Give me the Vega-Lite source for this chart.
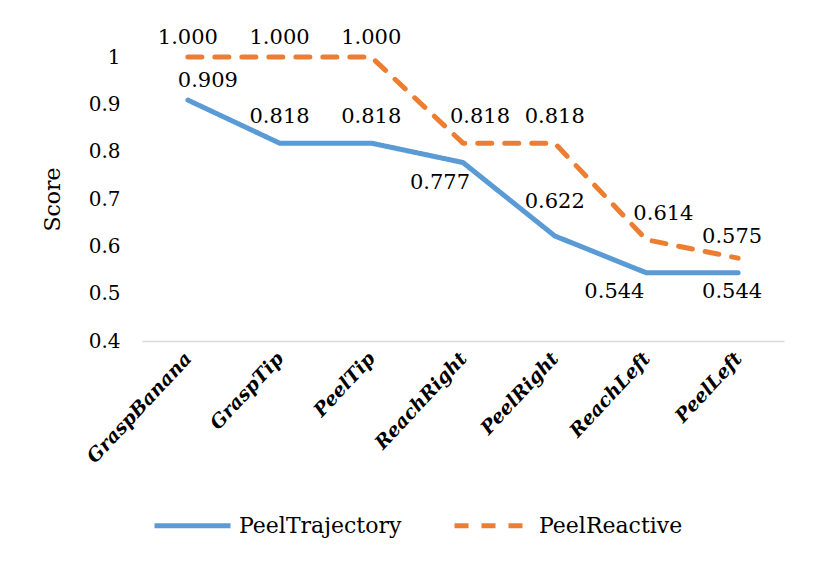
{
  "$schema": "https://vega.github.io/schema/vega-lite/v6.json",
  "width": 642,
  "height": 284,
  "autosize": "none",
  "padding": {"left": 142, "top": 57, "right": 30, "bottom": 225},
  "background": "#ffffff",
  "data": {
    "values": [
      {"step": "GraspBanana", "series": "PeelTrajectory", "score": 0.909},
      {"step": "GraspTip", "series": "PeelTrajectory", "score": 0.818},
      {"step": "PeelTip", "series": "PeelTrajectory", "score": 0.818},
      {"step": "ReachRight", "series": "PeelTrajectory", "score": 0.777},
      {"step": "PeelRight", "series": "PeelTrajectory", "score": 0.622},
      {"step": "ReachLeft", "series": "PeelTrajectory", "score": 0.544},
      {"step": "PeelLeft", "series": "PeelTrajectory", "score": 0.544},
      {"step": "GraspBanana", "series": "PeelReactive", "score": 1.0},
      {"step": "GraspTip", "series": "PeelReactive", "score": 1.0},
      {"step": "PeelTip", "series": "PeelReactive", "score": 1.0},
      {"step": "ReachRight", "series": "PeelReactive", "score": 0.818},
      {"step": "PeelRight", "series": "PeelReactive", "score": 0.818},
      {"step": "ReachLeft", "series": "PeelReactive", "score": 0.614},
      {"step": "PeelLeft", "series": "PeelReactive", "score": 0.575}
    ]
  },
  "encoding": {
    "x": {
      "field": "step",
      "type": "nominal",
      "sort": ["GraspBanana", "GraspTip", "PeelTip", "ReachRight", "PeelRight", "ReachLeft", "PeelLeft"],
      "scale": {"type": "point", "padding": 0.5},
      "axis": {
        "title": null,
        "labelAngle": -47,
        "labelFontSize": 19,
        "labelFontWeight": "bold",
        "labelFontStyle": "italic",
        "labelPadding": 14,
        "ticks": false,
        "domainColor": "#d9d9d9",
        "domainWidth": 1.5
      }
    },
    "y": {
      "field": "score",
      "type": "quantitative",
      "scale": {"domain": [0.4, 1], "nice": false, "zero": false},
      "axis": {
        "title": "Score",
        "values": [0.4, 0.5, 0.6, 0.7, 0.8, 0.9, 1],
        "format": "~g",
        "labelFontSize": 20,
        "labelPadding": 22,
        "titleFontSize": 22,
        "titleFontWeight": "normal",
        "titlePadding": 24,
        "ticks": false,
        "domain": false,
        "grid": false
      }
    }
  },
  "layer": [
    {
      "mark": {"type": "line", "strokeWidth": 5, "strokeCap": "round", "strokeJoin": "round"},
      "encoding": {
        "color": {
          "field": "series",
          "type": "nominal",
          "scale": {"domain": ["PeelTrajectory", "PeelReactive"], "range": ["#5B9BD5", "#ED7D31"]},
          "legend": {
            "title": null,
            "orient": "none",
            "direction": "horizontal",
            "legendX": 10,
            "legendY": 428,
            "symbolType": "stroke",
            "symbolSize": 5776,
            "symbolStrokeWidth": 5,
            "labelFontSize": 22,
            "labelOffset": 6,
            "columnPadding": 42,
            "labelLimit": 400
          }
        },
        "strokeDash": {
          "field": "series",
          "type": "nominal",
          "scale": {"domain": ["PeelTrajectory", "PeelReactive"], "range": [[1, 0], [14, 13]]},
          "legend": null
        }
      }
    },
    {
      "transform": [{"filter": "datum.series === 'PeelReactive' && indexof(['GraspBanana', 'GraspTip', 'PeelTip'], datum.step) >= 0"}],
      "mark": {"type": "text", "fontSize": 21, "baseline": "middle", "dy": -19},
      "encoding": {"text": {"field": "score", "format": ".3f"}}
    },
    {
      "transform": [{"filter": "(datum.series === 'PeelTrajectory' && indexof(['GraspTip', 'PeelTip'], datum.step) >= 0) || (datum.series === 'PeelReactive' && datum.step === 'PeelRight')"}],
      "mark": {"type": "text", "fontSize": 21, "baseline": "middle", "dy": -26},
      "encoding": {"text": {"field": "score", "format": ".3f"}}
    },
    {
      "transform": [{"filter": "datum.series === 'PeelTrajectory' && datum.step === 'GraspBanana'"}],
      "mark": {"type": "text", "fontSize": 21, "baseline": "middle", "dx": 20, "dy": -19},
      "encoding": {"text": {"field": "score", "format": ".3f"}}
    },
    {
      "transform": [{"filter": "datum.series === 'PeelReactive' && indexof(['ReachRight', 'ReachLeft'], datum.step) >= 0"}],
      "mark": {"type": "text", "fontSize": 21, "baseline": "middle", "dx": 17, "dy": -26},
      "encoding": {"text": {"field": "score", "format": ".3f"}}
    },
    {
      "transform": [{"filter": "datum.series === 'PeelTrajectory' && datum.step === 'PeelRight'"}],
      "mark": {"type": "text", "fontSize": 21, "baseline": "middle", "dy": -34},
      "encoding": {"text": {"field": "score", "format": ".3f"}}
    },
    {
      "transform": [{"filter": "datum.series === 'PeelReactive' && datum.step === 'PeelLeft'"}],
      "mark": {"type": "text", "fontSize": 21, "baseline": "middle", "dx": -6, "dy": -21},
      "encoding": {"text": {"field": "score", "format": ".3f"}}
    },
    {
      "transform": [{"filter": "datum.series === 'PeelTrajectory' && datum.step === 'ReachRight'"}],
      "mark": {"type": "text", "fontSize": 21, "baseline": "middle", "dx": -23, "dy": 20},
      "encoding": {"text": {"field": "score", "format": ".3f"}}
    },
    {
      "transform": [{"filter": "datum.series === 'PeelTrajectory' && datum.step === 'ReachLeft'"}],
      "mark": {"type": "text", "fontSize": 21, "baseline": "middle", "dx": -32, "dy": 19},
      "encoding": {"text": {"field": "score", "format": ".3f"}}
    },
    {
      "transform": [{"filter": "datum.series === 'PeelTrajectory' && datum.step === 'PeelLeft'"}],
      "mark": {"type": "text", "fontSize": 21, "baseline": "middle", "dx": -6, "dy": 19},
      "encoding": {"text": {"field": "score", "format": ".3f"}}
    }
  ],
  "config": {
    "font": "DejaVu Serif",
    "view": {"stroke": null},
    "axis": {"labelColor": "#000000", "titleColor": "#000000", "labelFont": "DejaVu Serif", "titleFont": "DejaVu Serif"},
    "legend": {"labelColor": "#000000", "labelFont": "DejaVu Serif"},
    "text": {"color": "#000000", "font": "DejaVu Serif"}
  }
}
